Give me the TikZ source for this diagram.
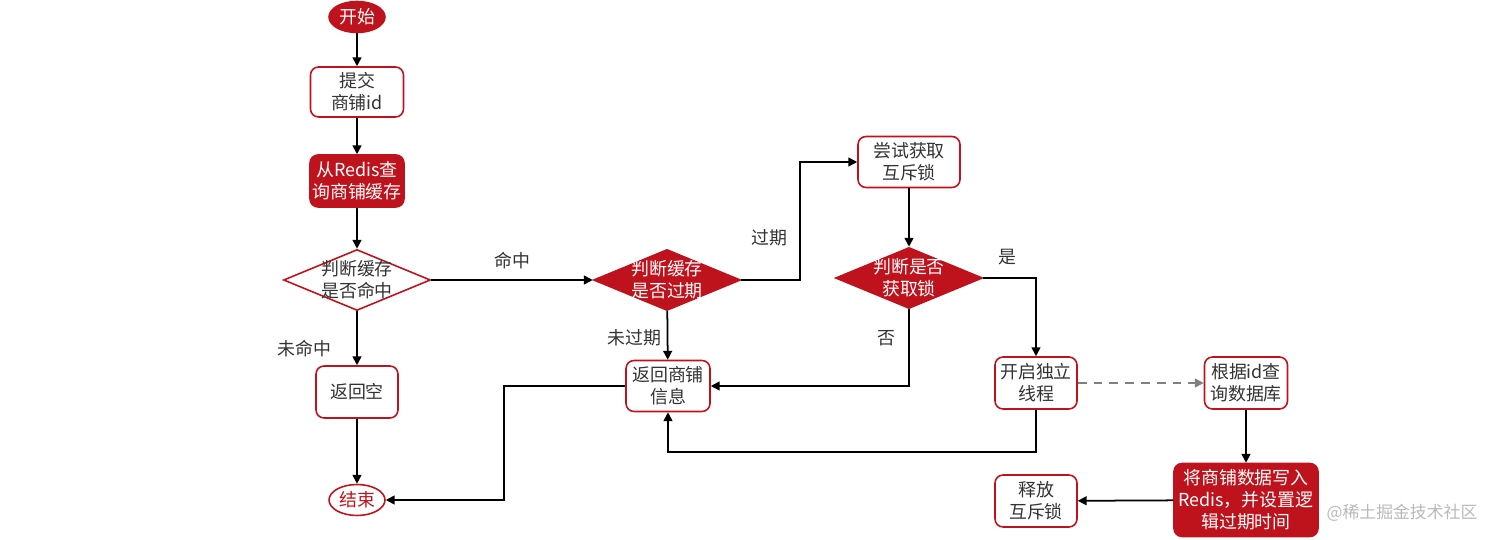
\documentclass[tikz,border=0pt]{standalone}
\usepackage{fontspec}
\setmainfont{Noto Sans CJK SC}
\usetikzlibrary{arrows.meta, shapes.geometric, positioning}
\definecolor{lockred}{RGB}{190,18,28}
\definecolor{txtgray}{RGB}{51,51,51}
\tikzset{
  box/.style={draw=lockred, line width=0.9pt, rounded corners=0.16cm, fill=white, text=txtgray,
    align=center, inner sep=0pt, font=\fontsize{10.2}{12.5}\selectfont},
  boxred/.style={box, fill=lockred, text=white},
  term/.style={ellipse, draw=lockred, line width=0.9pt, fill=white, text=lockred, inner sep=0pt,
    minimum width=1.12cm, minimum height=0.62cm, font=\fontsize{10.2}{12.5}\selectfont},
  decision/.style={diamond, draw=lockred, line width=0.9pt, fill=white, inner sep=0pt,
    minimum width=2.94cm, minimum height=1.22cm},
  decisionred/.style={decision, fill=lockred},
  dtext/.style={align=center, text=txtgray, font=\fontsize{10.2}{12.5}\selectfont},
  flow/.style={line width=1pt, -{Triangle[length=5pt,width=5pt]}},
  tag/.style={text=txtgray, font=\fontsize{10.2}{12.5}\selectfont, inner sep=1pt}
}
\begin{document}
\begin{tikzpicture}[x=0.02cm, y=-0.02cm]
\useasboundingbox (0,0) rectangle (1512,540);
% left column
\node[term, fill=lockred, text=white] (start) at (357,17) {开始};
\node[box, minimum width=1.86cm, minimum height=1cm] (submit) at (357,92) {提交\\商铺id};
\node[boxred, minimum width=1.88cm, minimum height=1.04cm] (query) at (357,181) {从Redis查\\询商铺缓存};
\node[decision] (hit) at (357,280) {};
\node[dtext] (hittext) at (hit.center) {判断缓存\\是否命中};
\node[box, minimum width=1.64cm, minimum height=1.04cm] (retnull) at (357,392) {返回空};
\node[term] (end) at (357,500) {结束};
% middle column
\node[decisionred] (expire) at (667,280) {};
\node[dtext, text=white] (expiretext) at (expire.center) {判断缓存\\是否过期};
\node[box, minimum width=1.68cm, minimum height=1.02cm] (retinfo) at (668,386) {返回商铺\\信息};
\node[box, minimum width=2.04cm, minimum height=1.02cm] (trylock) at (909,162) {尝试获取\\互斥锁};
\node[decisionred] (gotlock) at (909,278) {};
\node[dtext, text=white] (gotlocktext) at (gotlock.center) {判断是否\\获取锁};
% right column
\node[box, minimum width=1.64cm, minimum height=1.04cm] (thread) at (1036,383) {开启独立\\线程};
\node[box, minimum width=1.66cm, minimum height=1.04cm] (querydb) at (1246,383) {根据id查\\询数据库};
\node[boxred, minimum width=2.88cm, minimum height=1.46cm] (write) at (1246,500) {将商铺数据写入\\Redis，并设置逻\\辑过期时间};
\node[box, minimum width=1.64cm, minimum height=1.04cm] (release) at (1036,501) {释放\\互斥锁};
\node[text=gray!55, font=\fontsize{9.6}{12}\selectfont] (mark) at (1402,513) {@稀土掘金技术社区};
% connectors
\draw[flow] (start) -- (submit);
\draw[flow] (submit) -- (query);
\draw[flow] (query) -- (hit);
\draw[flow] (hit) -- node[tag, above=5pt] {命中} (expire);
\draw[flow] (hit) -- node[tag, pos=0.7, left=13pt] {未命中} (retnull);
\draw[flow] (retnull) -- (end);
\draw[flow] (expire.east) -- ++(59,0) |- node[tag, pos=0.18, left=6pt] {过期} (trylock.west);
\draw[flow] (expire) -- node[tag, pos=0.55, left=2pt] {未过期} (retinfo);
\draw[flow] (trylock) -- (gotlock);
\draw[flow] (gotlock.south) |- node[tag, pos=0.19, left=6pt] {否} (retinfo.east);
\draw[flow] (gotlock.east) -| node[tag, pos=0.23, above=6pt] {是} (thread.north);
\draw[flow, gray, dashed, dash pattern=on 5pt off 4pt] (thread) -- (querydb);
\draw[flow] (thread.south) -- ++(0,42) -| (retinfo.south);
\draw[flow] (retinfo.west) -- ++(-121,0) |- (end.east);
\draw[flow] (querydb) -- (write);
\draw[flow] (write) -- (release);
\end{tikzpicture}
\end{document}
